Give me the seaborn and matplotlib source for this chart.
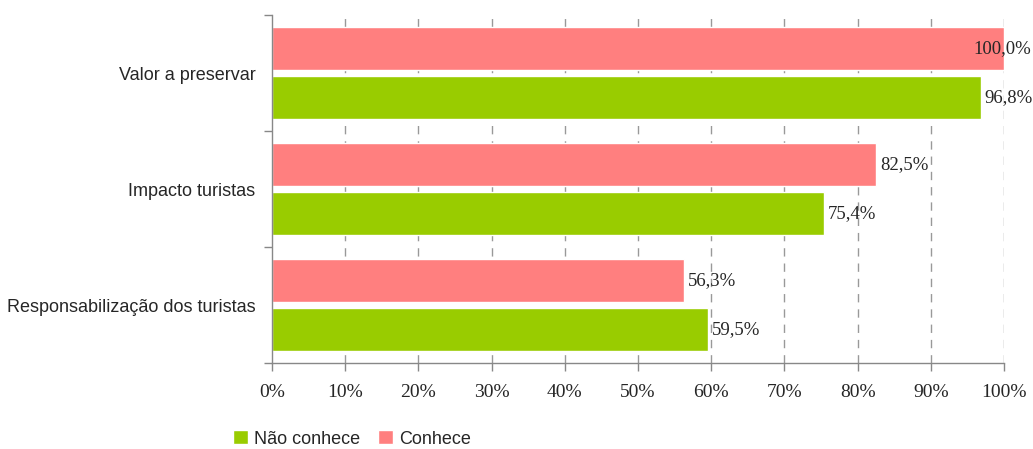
import numpy as np
import pandas as pd
import matplotlib
matplotlib.use("Agg")
import matplotlib.pyplot as plt
from matplotlib.patches import Patch
from matplotlib.ticker import FixedLocator, PercentFormatter
import seaborn as sns

categories = ["Valor a preservar", "Impacto turistas", "Responsabilização dos turistas"]
conhece = [100.0, 82.5, 56.3]
nao_conhece = [96.8, 75.4, 59.5]
series_names = ["Conhece", "Não conhece"]
colors = {"Conhece": "#FF7F7F", "Não conhece": "#99CC00"}

df = pd.DataFrame({
    "categoria": categories * 2,
    "valor": conhece + nao_conhece,
    "grupo": ["Conhece"] * 3 + ["Não conhece"] * 3,
})

serif = ["Liberation Serif", "DejaVu Serif"]

sns.set_theme(style="white")
plt.rcParams["font.family"] = ["Liberation Sans", "DejaVu Sans"]

fig = plt.figure(figsize=(10.33, 4.49), dpi=100)
ax = fig.add_axes([272 / 1033, 1 - 363 / 449, (1004 - 272) / 1033, (363 - 15) / 449])

sns.barplot(data=df, y="categoria", x="valor", hue="grupo", order=categories,
            hue_order=series_names, palette=colors, orient="h",
            width=0.845, gap=0.12, saturation=1, legend=False, ax=ax)

ax.set_xlim(0, 100)
ax.set_ylim(2.5, -0.5)
ax.set_xlabel("")
ax.set_ylabel("")

# x axis: percentage ticks in serif
ax.xaxis.set_major_locator(FixedLocator(np.arange(0, 101, 10)))
ax.xaxis.set_major_formatter(PercentFormatter(decimals=0))
for lbl in ax.get_xticklabels():
    lbl.set_family(serif)
    lbl.set_fontsize(14)
ax.tick_params(axis="x", direction="out", length=6, width=1, color="#888888",
               pad=9, bottom=True)

# vertical dashed grid
for v in range(10, 101, 10):
    ax.axvline(v, color="#999999", linestyle=(0, (6, 5)), linewidth=1, zorder=0)

# y axis: labels at centers, tick marks at category boundaries
ax.tick_params(axis="y", which="major", length=0, pad=12, labelsize=13)
ax.yaxis.set_minor_locator(FixedLocator([-0.5, 0.5, 1.5, 2.5]))
ax.tick_params(axis="y", which="minor", direction="out", length=6, width=1,
               color="#888888", left=True)

for s in ["top", "right"]:
    ax.spines[s].set_visible(False)
for s in ["left", "bottom"]:
    ax.spines[s].set_color("#888888")
    ax.spines[s].set_linewidth(1)

# value labels
for container in ax.containers:
    for bar in container:
        w = bar.get_width()
        yc = bar.get_y() + bar.get_height() / 2
        txt = f"{w:.1f}%".replace(".", ",")
        if w >= 99:
            ax.annotate(txt, (w, yc), xytext=(27, 0), textcoords="offset pixels",
                        ha="right", va="center", fontsize=13.5,
                        family=serif, annotation_clip=False)
        else:
            ax.annotate(txt, (w, yc), xytext=(4, 0), textcoords="offset pixels",
                        ha="left", va="center", fontsize=13.5,
                        family=serif, annotation_clip=False)

handles = [Patch(facecolor=colors["Não conhece"], label="Não conhece"),
           Patch(facecolor=colors["Conhece"], label="Conhece")]
fig.legend(handles=handles, loc="center left", bbox_to_anchor=(226 / 1033, 1 - 439 / 449),
           ncol=2, frameon=False, fontsize=13, handlelength=0.8, handleheight=0.8,
           handletextpad=0.35, columnspacing=1.0, borderaxespad=0)

fig.savefig("out.png", dpi=100)
